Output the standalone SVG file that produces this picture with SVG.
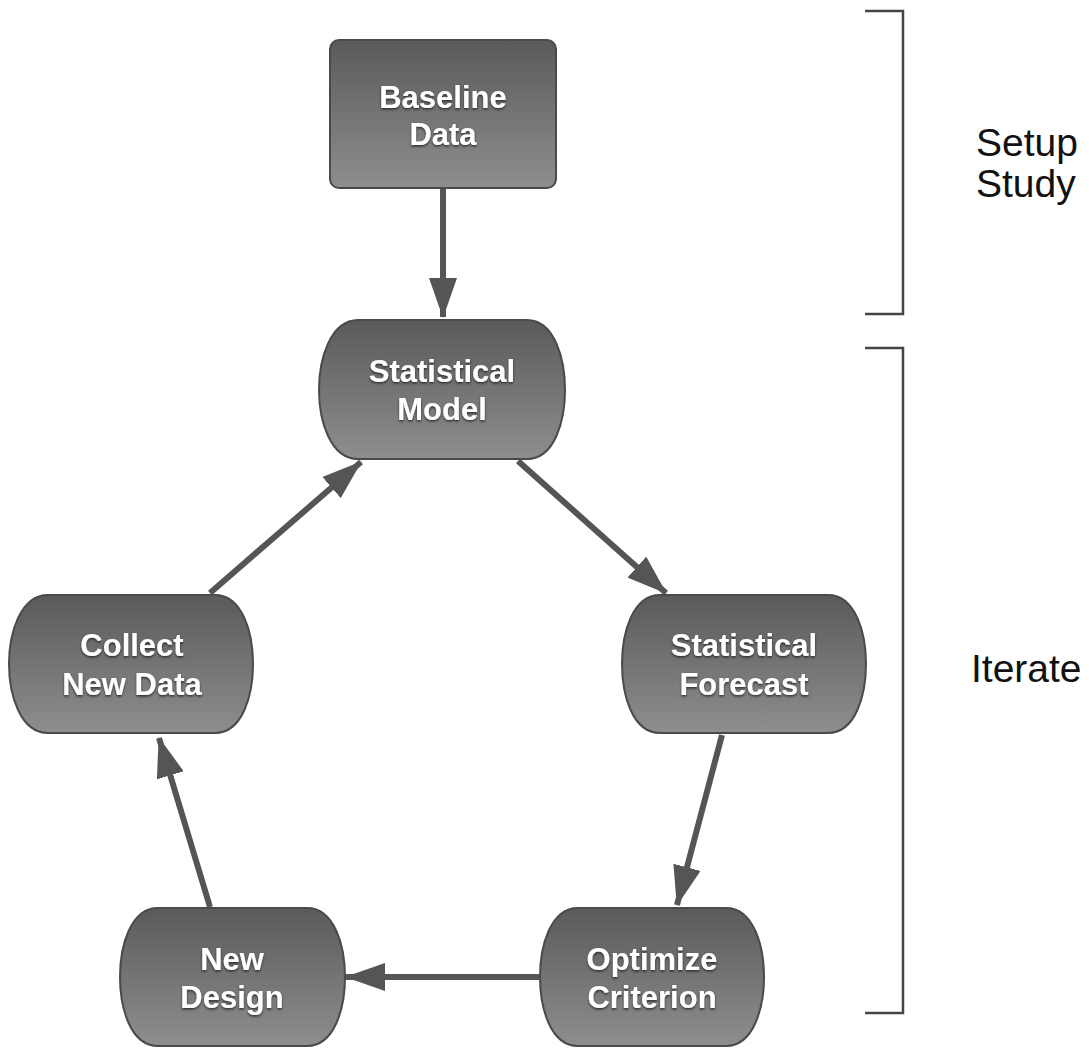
<svg xmlns="http://www.w3.org/2000/svg" width="1089" height="1049" viewBox="0 0 1089 1049">
<defs>
<linearGradient id="g" x1="0" y1="0" x2="0" y2="1">
<stop offset="0" stop-color="#5a5a5a"/>
<stop offset="1" stop-color="#8e8e8e"/>
</linearGradient>
<filter id="ts" x="-10%" y="-20%" width="120%" height="140%">
<feDropShadow dx="0" dy="1.5" stdDeviation="1.2" flood-color="#222" flood-opacity="0.9"/>
</filter>
<marker id="ah" viewBox="0 0 40 28" refX="39" refY="14" markerWidth="40" markerHeight="28" markerUnits="userSpaceOnUse" orient="auto">
<path d="M0,0 L40,14 L0,28 Z" fill="#555"/>
</marker>
<style>
.node{fill:url(#g);stroke:#4a4a4a;stroke-width:2}
.lbl{font-family:"Liberation Sans",Arial,sans-serif;font-weight:bold;font-size:31px;fill:#fff;text-anchor:middle;filter:url(#ts)}
.conn{stroke:#555;stroke-width:6;fill:none}
.br{stroke:#444;stroke-width:2.5;fill:none}
.side{font-family:"Liberation Sans",Arial,sans-serif;font-size:39px;fill:#111}
</style>
</defs>
<g id="connectors">
<line class="conn" x1="443" y1="189" x2="443" y2="317" marker-end="url(#ah)"/>
<line class="conn" x1="518" y1="461" x2="666" y2="593" marker-end="url(#ah)"/>
<line class="conn" x1="722" y1="735" x2="677" y2="905" marker-end="url(#ah)"/>
<line class="conn" x1="539" y1="977" x2="346" y2="977" marker-end="url(#ah)"/>
<line class="conn" x1="210" y1="907" x2="159" y2="738" marker-end="url(#ah)"/>
<line class="conn" x1="210" y1="593" x2="361" y2="462" marker-end="url(#ah)"/>
</g>
<g id="baseline-data">
<rect class="node" x="330" y="40" width="226" height="148" rx="9"/>
<text class="lbl" x="443" y="108">Baseline</text>
<text class="lbl" x="443" y="145">Data</text>
</g>
<g id="statistical-model">
<path class="node" d="M358,320 H527 C555,320 565,360 565,390 C565,420 555,459 527,459 H358 C330,459 319,420 319,390 C319,360 330,320 358,320 Z"/>
<text class="lbl" x="442" y="382">Statistical</text>
<text class="lbl" x="442" y="420">Model</text>
</g>
<g id="collect-new-data">
<path class="node" d="M48,595 H215 C243,595 253,634 253,664 C253,694 243,733 215,733 H48 C20,733 9,694 9,664 C9,634 20,595 48,595 Z"/>
<text class="lbl" x="132" y="656">Collect</text>
<text class="lbl" x="132" y="695">New Data</text>
</g>
<g id="statistical-forecast">
<path class="node" d="M660,595 H828 C856,595 866,634 866,664 C866,694 856,733 828,733 H660 C632,733 622,694 622,664 C622,634 632,595 660,595 Z"/>
<text class="lbl" x="744" y="656">Statistical</text>
<text class="lbl" x="744" y="695">Forecast</text>
</g>
<g id="optimize-criterion">
<path class="node" d="M578,908 H726 C754,908 764,947 764,977 C764,1007 754,1046 726,1046 H578 C550,1046 540,1007 540,977 C540,947 550,908 578,908 Z"/>
<text class="lbl" x="652" y="970">Optimize</text>
<text class="lbl" x="652" y="1008">Criterion</text>
</g>
<g id="new-design">
<path class="node" d="M158,908 H307 C335,908 345,947 345,977 C345,1007 335,1046 307,1046 H158 C130,1046 120,1007 120,977 C120,947 130,908 158,908 Z"/>
<text class="lbl" x="232" y="970">New</text>
<text class="lbl" x="232" y="1008">Design</text>
</g>
<g id="setup-study">
<path class="br" d="M865,11 H903 V314 H865"/>
<text class="side" x="976" y="156">Setup</text>
<text class="side" x="976" y="197">Study</text>
</g>
<g id="iterate">
<path class="br" d="M865,348 H903 V1013 H865"/>
<text class="side" x="971" y="682">Iterate</text>
</g>
</svg>
